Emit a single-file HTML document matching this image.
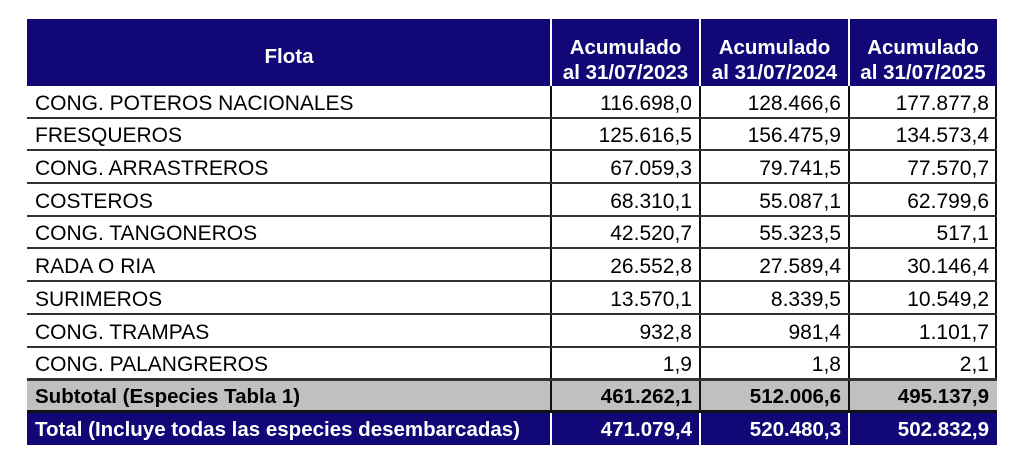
<!DOCTYPE html>
<html><head><meta charset="utf-8"><style>
body{margin:0;width:1024px;height:467px;background:#fff;position:relative;overflow:hidden;font-family:"Liberation Sans",Arial,sans-serif;}
.r{position:absolute;left:27px;width:970px;box-sizing:border-box;}
.c{position:absolute;top:0;bottom:0;font-size:21px;display:flex;align-items:flex-end;padding-bottom:1px;box-sizing:border-box;white-space:nowrap;}
.c0{left:8px;width:516px;}
.c1{left:524px;width:149px;justify-content:flex-end;padding-right:8px;}
.c2{left:673px;width:149px;justify-content:flex-end;padding-right:8px;}
.c3{left:822px;width:148px;justify-content:flex-end;padding-right:8px;}
.vl{position:absolute;top:0;bottom:0;width:2px;background:#111;}
.hdr{background:#120777;color:#fff;font-weight:bold;}
.hh .c{align-items:center;justify-content:center;text-align:center;line-height:25px;padding:0;font-size:20.5px;}
.tot .c{font-size:20.5px;}
</style></head><body>
<div class="r hdr hh" style="top:19px;height:67px;">
<div class="c" style="left:0;width:524px;padding-top:8px">Flota</div>
<div class="c" style="left:524px;width:149px;padding-top:14px">Acumulado<br>al 31/07/2023</div>
<div class="c" style="left:673px;width:149px;padding-top:14px">Acumulado<br>al 31/07/2024</div>
<div class="c" style="left:822px;width:148px;padding-top:14px">Acumulado<br>al 31/07/2025</div>
<div class="vl" style="left:523px;background:#fff"></div><div class="vl" style="left:672px;background:#fff"></div><div class="vl" style="left:821px;background:#fff"></div>
</div>
<div class="r" style="top:86px;height:294px;">
<div class="vl" style="left:523px"></div><div class="vl" style="left:672px"></div><div class="vl" style="left:821px"></div>
<div class="vl" style="left:968px"></div>
</div>
<div class="r" style="top:86px;height:32.7px;border-bottom:2px solid #333"><div class="c c0">CONG. POTEROS NACIONALES</div><div class="c c1">116.698,0</div><div class="c c2">128.466,6</div><div class="c c3">177.877,8</div></div>
<div class="r" style="top:118.7px;height:32.7px;border-bottom:2px solid #333"><div class="c c0">FRESQUEROS</div><div class="c c1">125.616,5</div><div class="c c2">156.475,9</div><div class="c c3">134.573,4</div></div>
<div class="r" style="top:151.4px;height:32.7px;border-bottom:2px solid #333"><div class="c c0">CONG. ARRASTREROS</div><div class="c c1">67.059,3</div><div class="c c2">79.741,5</div><div class="c c3">77.570,7</div></div>
<div class="r" style="top:184.1px;height:32.7px;border-bottom:2px solid #333"><div class="c c0">COSTEROS</div><div class="c c1">68.310,1</div><div class="c c2">55.087,1</div><div class="c c3">62.799,6</div></div>
<div class="r" style="top:216.8px;height:32.7px;border-bottom:2px solid #333"><div class="c c0">CONG. TANGONEROS</div><div class="c c1">42.520,7</div><div class="c c2">55.323,5</div><div class="c c3">517,1</div></div>
<div class="r" style="top:249.5px;height:32.7px;border-bottom:2px solid #333"><div class="c c0">RADA O RIA</div><div class="c c1">26.552,8</div><div class="c c2">27.589,4</div><div class="c c3">30.146,4</div></div>
<div class="r" style="top:282.2px;height:32.7px;border-bottom:2px solid #333"><div class="c c0">SURIMEROS</div><div class="c c1">13.570,1</div><div class="c c2">8.339,5</div><div class="c c3">10.549,2</div></div>
<div class="r" style="top:314.9px;height:32.7px;border-bottom:2px solid #333"><div class="c c0">CONG. TRAMPAS</div><div class="c c1">932,8</div><div class="c c2">981,4</div><div class="c c3">1.101,7</div></div>
<div class="r" style="top:347.6px;height:32.7px;border-bottom:2px solid #333"><div class="c c0">CONG. PALANGREROS</div><div class="c c1">1,9</div><div class="c c2">1,8</div><div class="c c3">2,1</div></div>
<div class="r tot" style="top:379px;height:34px;background:#c0c0c0;border-top:2px solid #333;border-bottom:3px solid #111;font-weight:bold">
<div class="vl" style="left:523px"></div><div class="vl" style="left:672px"></div><div class="vl" style="left:821px"></div>
<div class="c c0">Subtotal (Especies Tabla 1)</div><div class="c c1">461.262,1</div><div class="c c2">512.006,6</div><div class="c c3">495.137,9</div></div>
<div class="r hdr tot" style="top:413px;height:32px;">
<div class="vl" style="left:523px;background:#fff"></div><div class="vl" style="left:672px;background:#fff"></div><div class="vl" style="left:821px;background:#fff"></div>
<div class="c c0" style="padding-bottom:3px">Total (Incluye todas las especies desembarcadas)</div><div class="c c1" style="padding-bottom:3px">471.079,4</div><div class="c c2" style="padding-bottom:3px">520.480,3</div><div class="c c3" style="padding-bottom:3px">502.832,9</div></div>
</body></html>
